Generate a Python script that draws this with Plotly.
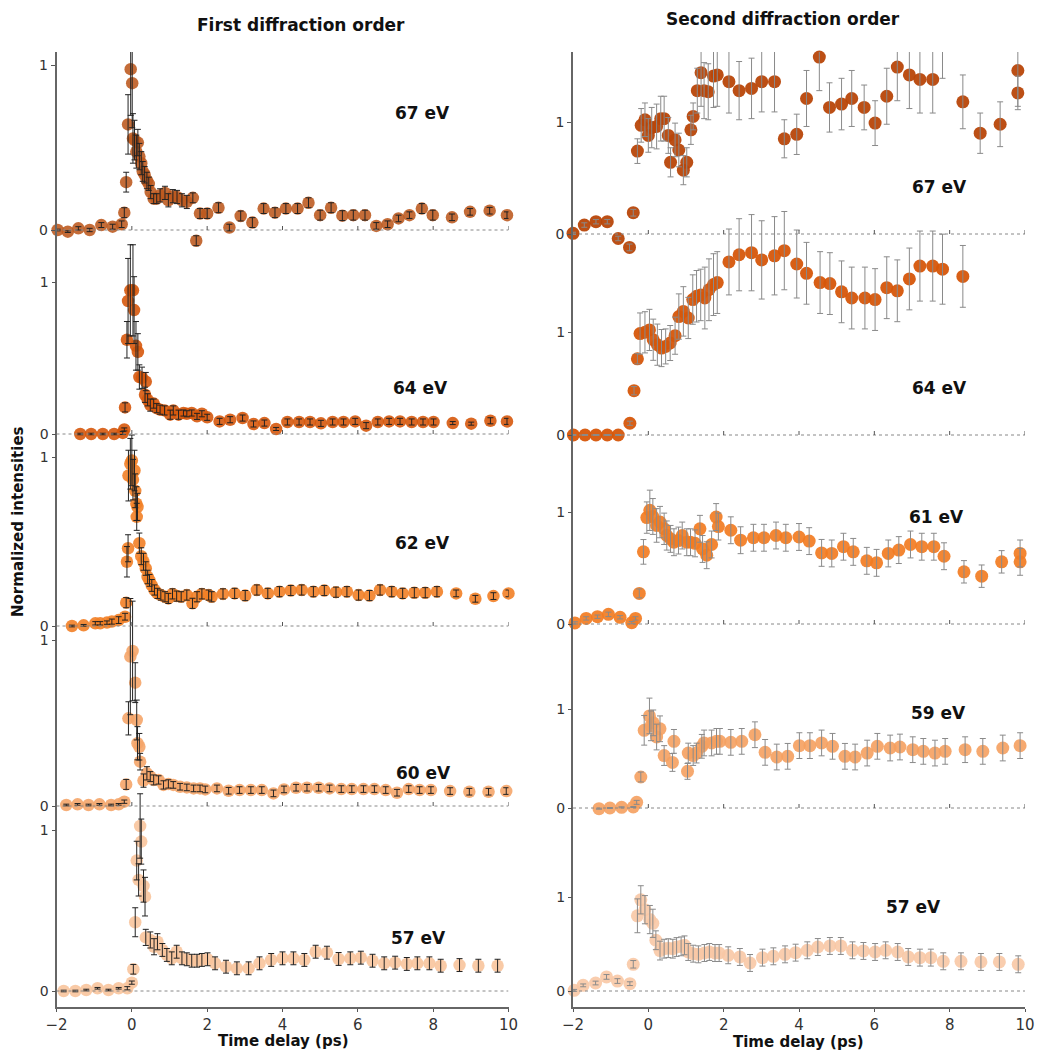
import plotly.graph_objects as go

# ---------------- data ----------------
# First diffraction order
L67_x = [-1.97,-1.7,-1.42,-1.12,-0.81,-0.51,-0.27,-0.2,-0.15,-0.1,
         -0.03,0.01,0.03,0.07,0.12,0.16,0.2,0.25,0.29,0.34,
         0.4,0.45,0.5,0.58,0.66,0.75,0.88,0.97,1.09,1.2,
         1.33,1.46,1.62,1.71,1.81,2.0,2.3,2.59,2.89,3.2,
         3.5,3.8,4.09,4.4,4.69,5.0,5.29,5.59,5.88,6.19,
         6.49,6.79,7.08,7.37,7.7,7.99,8.5,8.98,9.5,9.96]
L67_y = [0,-0.01,0.01,0,0.03,0.02,0.035,0.105,0.29,0.64,
         0.975,0.89,0.555,0.545,0.475,0.53,0.445,0.405,0.355,0.335,
         0.3,0.28,0.23,0.19,0.19,0.21,0.225,0.18,0.205,0.2,
         0.18,0.17,0.195,-0.065,0.1,0.1,0.135,0.015,0.085,0.045,
         0.13,0.105,0.13,0.13,0.165,0.09,0.135,0.087,0.09,0.09,
         0.025,0.035,0.07,0.09,0.13,0.09,0.077,0.11,0.117,0.09]
L67_e = [0.005,0.005,0.01,0.01,0.015,0.015,0.02,0.03,0.06,0.18,
         0.28,0.27,0.15,0.12,0.1,0.08,0.08,0.07,0.06,0.05,
         0.05,0.04,0.04,0.03,0.03,0.04,0.04,0.04,0.04,0.04,
         0.04,0.04,0.03,0.03,0.03,0.03,0.03,0.02,0.03,0.03,
         0.03,0.03,0.03,0.03,0.03,0.03,0.03,0.03,0.03,0.03,
         0.02,0.02,0.02,0.02,0.03,0.03,0.02,0.02,0.02,0.02]

L64_x = [-1.37,-1.08,-0.77,-0.47,-0.24,-0.2,-0.18,-0.13,-0.1,-0.04,
         0.03,0.06,0.11,0.16,0.2,0.27,0.35,0.37,0.42,0.49,
         0.58,0.66,0.75,0.87,1.02,1.1,1.24,1.37,1.46,1.59,
         1.73,1.86,2.0,2.33,2.61,2.94,3.23,3.52,3.83,4.13,
         4.44,4.73,5.02,5.33,5.62,5.93,6.22,6.53,6.83,7.12,
         7.43,7.73,8.01,8.52,9.01,9.52,9.96]
L64_y = [0,0,0,0,0.007,0.03,0.175,0.62,0.875,0.945,
         0.945,0.815,0.58,0.54,0.375,0.37,0.258,0.345,0.225,0.19,
         0.2,0.17,0.16,0.155,0.127,0.155,0.127,0.138,0.133,0.138,
         0.116,0.133,0.11,0.083,0.094,0.105,0.066,0.072,0.033,0.079,
         0.079,0.079,0.07,0.079,0.079,0.083,0.055,0.079,0.083,0.083,
         0.079,0.079,0.079,0.072,0.068,0.087,0.083]
L64_e = [0.005,0.005,0.005,0.005,0.01,0.01,0.03,0.12,0.28,0.3,
         0.3,0.22,0.16,0.12,0.08,0.07,0.05,0.06,0.04,0.04,
         0.03,0.03,0.03,0.03,0.03,0.03,0.03,0.02,0.02,0.02,
         0.02,0.02,0.02,0.02,0.02,0.02,0.02,0.02,0.01,0.02,
         0.02,0.02,0.02,0.02,0.02,0.02,0.02,0.02,0.02,0.02,
         0.02,0.02,0.02,0.01,0.01,0.02,0.02]

L62_x = [-1.59,-1.28,-0.97,-0.84,-0.66,-0.53,-0.35,-0.18,-0.15,-0.13,
         -0.1,-0.09,-0.04,0.0,0.03,0.07,0.09,0.12,0.13,0.15,
         0.2,0.25,0.31,0.37,0.42,0.47,0.53,0.6,0.68,0.77,
         0.88,0.97,1.08,1.19,1.31,1.46,1.61,1.73,1.86,2.04,
         2.12,2.42,2.73,3.01,3.32,3.61,3.92,4.22,4.51,4.82,
         5.11,5.42,5.71,6.02,6.31,6.59,6.9,7.19,7.5,7.79,
         8.1,8.61,9.12,9.6,10.0]
L62_y = [0,0.004,0.016,0.016,0.02,0.026,0.035,0.055,0.138,0.38,
         0.46,0.89,0.96,0.98,0.866,0.92,0.8,0.724,0.646,0.705,
         0.49,0.413,0.38,0.34,0.29,0.27,0.24,0.213,0.193,0.183,
         0.173,0.163,0.19,0.177,0.173,0.183,0.134,0.173,0.19,0.183,
         0.173,0.19,0.193,0.18,0.213,0.193,0.203,0.21,0.213,0.203,
         0.21,0.2,0.203,0.183,0.18,0.213,0.203,0.193,0.197,0.197,
         0.203,0.193,0.161,0.177,0.193]
L62_e = [0.005,0.005,0.01,0.01,0.01,0.015,0.02,0.02,0.03,0.09,
         0.08,0.15,0.15,0.15,0.12,0.12,0.1,0.1,0.08,0.08,
         0.06,0.05,0.05,0.04,0.04,0.035,0.035,0.03,0.03,0.03,
         0.03,0.03,0.03,0.03,0.03,0.03,0.03,0.03,0.03,0.03,
         0.03,0.03,0.03,0.03,0.03,0.03,0.03,0.03,0.03,0.03,
         0.03,0.03,0.03,0.03,0.03,0.03,0.03,0.03,0.03,0.03,
         0.03,0.02,0.02,0.02,0.02]

L60_x = [-1.74,-1.44,-1.15,-0.86,-0.55,-0.35,-0.2,-0.15,-0.09,-0.04,
         0.02,0.09,0.13,0.15,0.2,0.22,0.31,0.4,0.49,0.58,
         0.71,0.84,0.97,1.1,1.28,1.46,1.64,1.81,1.95,2.26,
         2.57,2.86,3.16,3.45,3.76,4.04,4.36,4.65,4.96,5.25,
         5.56,5.84,6.15,6.44,6.74,7.04,7.35,7.64,7.94,8.45,
         8.96,9.47,9.94]
L60_y = [0.006,0.01,0.006,0.01,0.006,0.01,0.026,0.13,0.528,0.9,
         0.934,0.743,0.518,0.378,0.357,0.267,0.153,0.197,0.177,0.157,
         0.157,0.127,0.133,0.127,0.116,0.112,0.106,0.106,0.1,0.106,
         0.092,0.096,0.096,0.096,0.076,0.1,0.11,0.11,0.11,0.106,
         0.102,0.102,0.102,0.102,0.096,0.08,0.102,0.096,0.096,0.09,
         0.086,0.086,0.09]
L60_e = [0.005,0.005,0.005,0.005,0.005,0.005,0.01,0.03,0.1,0.35,
         0.3,0.12,0.12,0.1,0.08,0.05,0.04,0.04,0.03,0.03,
         0.025,0.025,0.025,0.02,0.02,0.02,0.02,0.02,0.02,0.02,
         0.02,0.02,0.02,0.02,0.02,0.02,0.02,0.02,0.02,0.02,
         0.02,0.02,0.02,0.02,0.02,0.02,0.02,0.02,0.02,0.02,
         0.02,0.02,0.02]

L57_x = [-1.81,-1.5,-1.21,-0.91,-0.62,-0.35,-0.12,0.0,0.04,0.09,
         0.13,0.18,0.22,0.25,0.31,0.35,0.37,0.49,0.59,0.68,
         0.81,0.93,1.06,1.19,1.33,1.46,1.59,1.73,1.86,2.01,
         2.21,2.5,2.79,3.1,3.39,3.7,4.0,4.29,4.58,4.88,
         5.18,5.49,5.8,6.08,6.39,6.7,6.99,7.3,7.58,7.9,
         8.2,8.7,9.2,9.71]
L57_y = [0,0,0.006,0.017,0.006,0.017,0.017,0.052,0.135,0.427,
         0.81,0.69,1.025,0.928,0.652,0.586,0.333,0.317,0.275,0.306,
         0.255,0.224,0.203,0.244,0.203,0.197,0.188,0.188,0.193,0.197,
         0.172,0.151,0.141,0.141,0.172,0.193,0.203,0.203,0.193,0.244,
         0.238,0.199,0.203,0.207,0.188,0.172,0.176,0.168,0.172,0.172,
         0.157,0.161,0.157,0.157]
L57_e = [0.005,0.005,0.005,0.005,0.005,0.005,0.01,0.01,0.03,0.09,
         0.12,0.1,0.2,0.14,0.1,0.12,0.05,0.05,0.05,0.05,
         0.04,0.04,0.04,0.04,0.04,0.04,0.04,0.04,0.04,0.04,
         0.04,0.04,0.04,0.04,0.04,0.04,0.04,0.04,0.04,0.04,
         0.04,0.04,0.04,0.04,0.04,0.04,0.04,0.04,0.04,0.04,
         0.04,0.04,0.04,0.04]

# Second diffraction order
R67_x = [-2.0,-1.7,-1.39,-1.09,-0.8,-0.5,-0.4,-0.29,-0.19,-0.09,
         0.0,0.09,0.22,0.33,0.42,0.53,0.59,0.71,0.81,0.93,
         1.02,1.13,1.19,1.3,1.4,1.48,1.59,1.73,1.83,2.14,
         2.41,2.74,3.01,3.35,3.61,3.94,4.2,4.54,4.81,5.13,
         5.4,5.73,6.02,6.33,6.61,6.93,7.21,7.55,7.81,8.35,
         8.81,9.34,9.81,9.81]
R67_y = [0.006,0.08,0.11,0.11,-0.04,-0.12,0.19,0.74,0.97,1.02,
         0.88,0.95,0.96,1.03,1.03,0.88,0.64,0.84,0.75,0.57,
         0.64,0.93,1.05,1.28,1.44,1.28,1.27,1.41,1.42,1.36,
         1.28,1.3,1.36,1.36,0.85,0.89,1.21,1.58,1.13,1.16,
         1.21,1.13,0.99,1.23,1.49,1.42,1.38,1.38,1.72,1.18,
         0.9,0.98,1.46,1.26]
R67_e = [0.01,0.02,0.02,0.02,0.02,0.03,0.03,0.11,0.15,0.15,
         0.15,0.18,0.2,0.2,0.2,0.16,0.13,0.15,0.15,0.13,
         0.13,0.13,0.12,0.2,0.3,0.25,0.25,0.28,0.28,0.28,
         0.26,0.27,0.27,0.27,0.17,0.18,0.25,0.3,0.22,0.23,
         0.25,0.2,0.2,0.25,0.3,0.3,0.3,0.3,0.33,0.24,
         0.18,0.2,0.32,0.15]

R64_x = [-1.99,-1.68,-1.39,-1.09,-0.8,-0.49,-0.38,-0.29,-0.22,-0.09,
         0.03,0.13,0.24,0.35,0.46,0.58,0.71,0.81,0.93,1.06,
         1.18,1.28,1.39,1.5,1.61,1.73,1.83,2.14,2.41,2.74,
         3.01,3.35,3.61,3.94,4.2,4.56,4.82,5.13,5.4,5.75,
         6.02,6.33,6.61,6.93,7.21,7.55,7.81,8.35]
R64_y = [0,0,0,0,0,0.114,0.43,0.74,0.985,0.997,
         1.02,0.925,0.877,0.844,0.86,0.893,0.964,1.15,1.2,1.136,
         1.315,1.347,1.36,1.33,1.41,1.46,1.48,1.68,1.75,1.77,
         1.7,1.74,1.79,1.66,1.57,1.48,1.47,1.39,1.33,1.33,
         1.315,1.43,1.4,1.515,1.64,1.64,1.61,1.54]
R64_e = [0.005,0.005,0.005,0.005,0.005,0.02,0.04,0.05,0.2,0.2,
         0.2,0.2,0.2,0.18,0.17,0.17,0.18,0.22,0.24,0.2,
         0.24,0.25,0.25,0.3,0.3,0.3,0.3,0.32,0.35,0.37,
         0.38,0.38,0.38,0.33,0.3,0.3,0.3,0.3,0.3,0.3,
         0.3,0.3,0.3,0.3,0.34,0.34,0.34,0.3]

R61_x = [-1.95,-1.65,-1.35,-1.06,-0.75,-0.44,-0.34,-0.24,-0.13,-0.04,
         0.04,0.12,0.22,0.31,0.42,0.49,0.59,0.68,0.8,0.9,
         1.02,1.12,1.24,1.37,1.44,1.55,1.68,1.8,1.86,2.19,
         2.45,2.79,3.07,3.39,3.65,4.0,4.27,4.6,4.87,5.18,
         5.44,5.8,6.06,6.37,6.65,6.96,7.26,7.58,7.85,8.38,
         8.85,9.38,9.87,9.87]
R61_y = [0.01,0.05,0.065,0.086,0.06,0.012,0.05,0.273,0.644,0.95,
         1.015,0.96,0.88,0.91,0.85,0.79,0.76,0.73,0.745,0.79,
         0.73,0.73,0.72,0.85,0.67,0.614,0.71,0.955,0.87,0.837,
         0.748,0.77,0.77,0.79,0.77,0.777,0.74,0.635,0.63,0.69,
         0.644,0.564,0.546,0.63,0.66,0.71,0.69,0.69,0.605,0.466,
         0.427,0.555,0.555,0.63]
R61_e = [0.01,0.015,0.015,0.02,0.015,0.01,0.015,0.04,0.11,0.14,
         0.18,0.16,0.15,0.14,0.14,0.13,0.12,0.12,0.12,0.12,
         0.12,0.12,0.12,0.12,0.12,0.12,0.12,0.12,0.12,0.12,
         0.12,0.12,0.12,0.12,0.12,0.12,0.12,0.12,0.12,0.12,
         0.12,0.12,0.12,0.12,0.12,0.12,0.12,0.12,0.12,0.1,
         0.1,0.1,0.12,0.12]

R59_x = [-1.31,-1.02,-0.71,-0.4,-0.31,-0.2,-0.11,0.03,0.07,0.13,
         0.22,0.31,0.42,0.64,0.68,1.04,1.06,1.19,1.28,1.42,
         1.48,1.68,1.81,1.9,2.19,2.48,2.83,3.1,3.41,3.7,
         4.01,4.29,4.6,4.89,5.22,5.49,5.81,6.08,6.42,6.68,
         7.02,7.3,7.61,7.88,8.41,8.88,9.41,9.87]
R59_y = [-0.007,0,0.007,0.01,0.057,0.313,0.785,0.93,0.83,0.86,
         0.717,0.8,0.53,0.46,0.673,0.37,0.555,0.53,0.555,0.623,
         0.657,0.657,0.673,0.673,0.663,0.673,0.74,0.562,0.515,0.522,
         0.63,0.63,0.657,0.623,0.522,0.515,0.555,0.623,0.606,0.616,
         0.589,0.572,0.555,0.572,0.589,0.572,0.606,0.63]
R59_e = [0.005,0.005,0.005,0.005,0.02,0.05,0.15,0.18,0.15,0.13,
         0.13,0.13,0.1,0.09,0.12,0.08,0.1,0.1,0.1,0.12,
         0.13,0.13,0.13,0.13,0.13,0.13,0.13,0.13,0.13,0.13,
         0.13,0.13,0.13,0.13,0.13,0.13,0.13,0.13,0.13,0.13,
         0.13,0.13,0.13,0.13,0.13,0.13,0.13,0.13]

R57_x = [-1.97,-1.73,-1.4,-1.11,-0.82,-0.49,-0.4,-0.29,-0.2,-0.09,
         0.04,0.12,0.2,0.31,0.42,0.53,0.65,0.75,0.87,0.96,
         1.06,1.19,1.33,1.49,1.62,1.77,1.88,2.12,2.43,2.7,
         3.03,3.32,3.63,3.91,4.22,4.5,4.82,5.11,5.42,5.71,
         6.02,6.3,6.62,6.9,7.21,7.5,7.83,8.3,8.83,9.32,9.82]
R57_y = [0.007,0.06,0.085,0.15,0.106,0.078,0.284,0.8,0.97,0.865,
         0.76,0.72,0.54,0.43,0.45,0.456,0.45,0.468,0.475,0.486,
         0.415,0.397,0.39,0.404,0.415,0.404,0.404,0.38,0.362,0.298,
         0.355,0.369,0.39,0.408,0.433,0.468,0.479,0.479,0.433,0.426,
         0.415,0.433,0.415,0.362,0.355,0.355,0.316,0.316,0.309,0.309,0.284]
R57_e = [0.01,0.015,0.02,0.025,0.025,0.02,0.04,0.18,0.15,0.15,
         0.15,0.15,0.1,0.1,0.1,0.1,0.1,0.1,0.1,0.1,
         0.09,0.09,0.09,0.09,0.09,0.09,0.09,0.09,0.09,0.09,
         0.09,0.09,0.09,0.09,0.09,0.09,0.09,0.09,0.09,0.09,
         0.09,0.09,0.09,0.09,0.09,0.09,0.09,0.09,0.09,0.09,0.09]

LEFT_LABELS = ["67 eV", "64 eV", "62 eV", "60 eV", "57 eV"]
RIGHT_LABELS = ["67 eV", "64 eV", "61 eV", "59 eV", "57 eV"]
LEFT_SERIES = [(L67_x, L67_y, L67_e), (L64_x, L64_y, L64_e), (L62_x, L62_y, L62_e),
               (L60_x, L60_y, L60_e), (L57_x, L57_y, L57_e)]
RIGHT_SERIES = [(R67_x, R67_y, R67_e), (R64_x, R64_y, R64_e), (R61_x, R61_y, R61_e),
                (R59_x, R59_y, R59_e), (R57_x, R57_y, R57_e)]
X_TICKS = [-2, 0, 2, 4, 6, 8, 10]
Y_TICKS = [0, 1]

# ---------------- styling / layout constants ----------------
W, H = 1038, 1052
TOP, BOTTOM = 52, 1007          # plot area in pixels
FONT = "DejaVu Sans"
LEFT_COLORS = ["rgba(188,88,28,0.88)", "rgba(214,88,12,0.9)", "rgba(242,128,38,0.9)",
               "rgba(245,165,105,0.9)", "rgba(248,196,156,0.9)"]
RIGHT_COLORS = ["rgba(184,70,8,0.95)", "rgba(214,86,10,0.95)", "rgba(242,124,34,0.92)",
                "rgba(245,160,95,0.9)", "rgba(248,200,165,0.9)"]
# pixel rows of the 0 and 1 level of each stacked panel
LEFT_ZERO = [230, 434, 626, 806, 991]
LEFT_ONE = [65, 282, 457, 640, 830]
RIGHT_ZERO = [234, 435, 624, 808, 991]
RIGHT_ONE = [122, 332, 512, 709, 897]
LEFT_DOM = [56.5 / W, 508.5 / W]
RIGHT_DOM = [573 / W, 1025 / W]
LEFT_LABEL_PX = [(422, 113), (420, 388), (422, 543), (423, 773), (418, 938)]
RIGHT_LABEL_PX = [(939, 187), (939, 388), (936, 517), (938, 713), (913, 907)]


def yrange(zero, one):
    u = zero - one
    return [-(BOTTOM - zero) / u, (zero - TOP) / u]


def px(x):
    return x / W


def py(y):
    return (BOTTOM - y) / (BOTTOM - TOP)


fig = go.Figure()
layout = dict(
    width=W, height=H, margin=dict(l=0, r=0, t=TOP, b=H - BOTTOM, pad=0),
    paper_bgcolor="white", plot_bgcolor="rgba(0,0,0,0)", showlegend=False,
    font=dict(family=FONT, size=14, color="#333"),
)
shapes = []
annotations = []

axis_common = dict(range=[-2, 10], tickvals=X_TICKS, ticks="outside", ticklen=3,
                   tickcolor="#555", showline=True, linecolor="#666", linewidth=1.6,
                   showgrid=False, zeroline=False, automargin=False,
                   tickfont=dict(size=15, color="#333"))
layout["xaxis"] = dict(domain=LEFT_DOM, anchor="y", **axis_common)
layout["xaxis2"] = dict(domain=RIGHT_DOM, anchor="y6", **axis_common)

columns = [("x", 1, LEFT_SERIES, LEFT_ZERO, LEFT_ONE, LEFT_COLORS, "#222", LEFT_LABELS, LEFT_LABEL_PX, 12.5),
           ("x2", 6, RIGHT_SERIES, RIGHT_ZERO, RIGHT_ONE, RIGHT_COLORS, "#8a8a8a", RIGHT_LABELS, RIGHT_LABEL_PX, 13)]

for xname, first, series, zeros, ones, colors, ecol, labels, lpx, msize in columns:
    for i, (xs, ys, es) in enumerate(series):
        n = min(len(xs), len(ys), len(es))
        xs, ys, es = xs[:n], ys[:n], es[:n]
        k = first + i
        yname = "y" if k == 1 else f"y{k}"
        ykey = "yaxis" if k == 1 else f"yaxis{k}"
        yax = dict(domain=[0, 1], range=yrange(zeros[i], ones[i]), tickvals=Y_TICKS,
                   ticks="outside", ticklen=4, tickcolor="#555", showgrid=False,
                   zeroline=False, anchor=xname, automargin=False,
                   tickfont=dict(size=14, color="#333"),
                   showline=(i == 0), linecolor="#666", linewidth=1.6)
        if i > 0:
            yax["overlaying"] = "y" if first == 1 else f"y{first}"
        layout[ykey] = yax
        fig.add_trace(go.Scatter(x=xs, y=ys, mode="markers", xaxis=xname, yaxis=yname,
                                 cliponaxis=False,
                                 marker=dict(size=msize, color=colors[i], line=dict(width=0))))
        fig.add_trace(go.Scatter(x=xs, y=ys, mode="markers", xaxis=xname, yaxis=yname,
                                 cliponaxis=False,
                                 marker=dict(size=1, color="rgba(0,0,0,0)"),
                                 error_y=dict(type="data", array=es, visible=True,
                                              color=ecol, thickness=1, width=3)))
        # dotted zero line for the panel
        shapes.append(dict(type="line", xref=xname, yref=yname, x0=X_TICKS[0], x1=X_TICKS[-1],
                           y0=0, y1=0, line=dict(color="#888", width=1, dash="dot")))
        # small upward ticks on the zero line
        if i < len(series) - 1:
            for t in X_TICKS[1:]:
                shapes.append(dict(type="line", xref=xname, yref=yname, x0=t, x1=t,
                                   ysizemode="pixel", yanchor=0, y0=0, y1=4,
                                   line=dict(color="#555", width=1)))
        annotations.append(dict(text=f"<b>{labels[i]}</b>", xref="paper", yref="paper",
                                x=px(lpx[i][0]), y=py(lpx[i][1]), xanchor="center",
                                yanchor="middle", showarrow=False,
                                font=dict(size=17, color="#111", family=FONT)))

annotations += [
    dict(text="<b>First diffraction order</b>", xref="paper", yref="paper",
         x=px(301), y=py(25), xanchor="center", yanchor="middle", showarrow=False,
         font=dict(size=17, color="#111")),
    dict(text="<b>Second diffraction order</b>", xref="paper", yref="paper",
         x=px(783), y=py(19), xanchor="center", yanchor="middle", showarrow=False,
         font=dict(size=17, color="#111")),
    dict(text="<b>Normalized intensities</b>", xref="paper", yref="paper",
         x=px(18), y=py(522), xanchor="center", yanchor="middle", showarrow=False,
         textangle=-90, font=dict(size=15, color="#111")),
    dict(text="<b>Time delay (ps)</b>", xref="paper", yref="paper",
         x=px(283), y=py(1041), xanchor="center", yanchor="middle", showarrow=False,
         font=dict(size=15, color="#111")),
    dict(text="<b>Time delay (ps)</b>", xref="paper", yref="paper",
         x=px(798), y=py(1042), xanchor="center", yanchor="middle", showarrow=False,
         font=dict(size=15, color="#111")),
]

layout["shapes"] = shapes
layout["annotations"] = annotations
fig.update_layout(**layout)
fig.write_html("out.html")
